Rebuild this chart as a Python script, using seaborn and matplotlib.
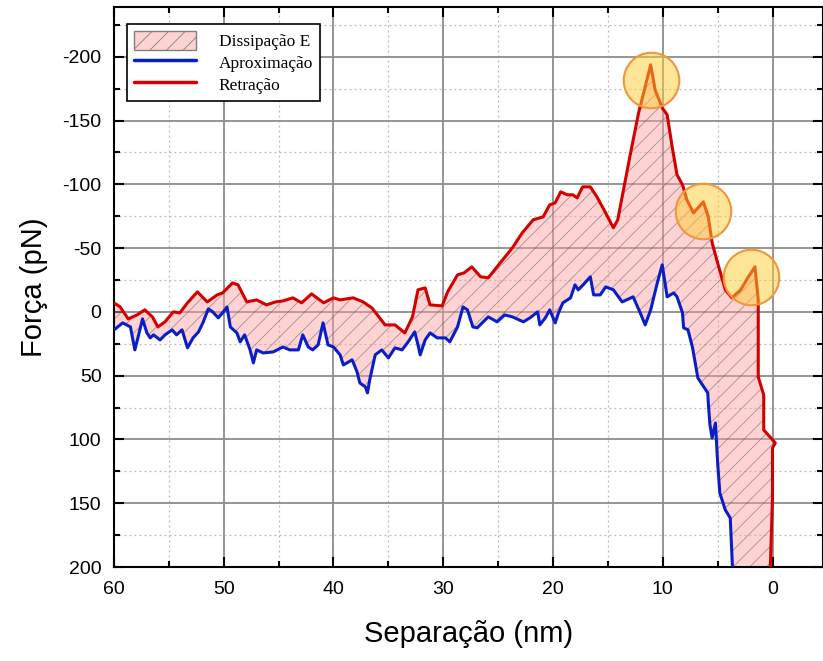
import matplotlib
matplotlib.use("Agg")
import matplotlib.pyplot as plt
import numpy as np
import pandas as pd
import seaborn as sns
from matplotlib.lines import Line2D
from matplotlib.patches import Patch
from matplotlib.ticker import MultipleLocator

# Retração (red curve): separation (nm) vs force (pN)
ret_sep = [60.0, 59.45, 58.7, 57.9, 57.2, 56.5, 56.0, 55.35, 54.6, 54.0, 53.3, 52.4,
           51.5, 50.6, 50.1, 49.2, 48.7, 47.9, 47.0, 46.1, 45.3, 44.6, 43.7, 42.9,
           42.0, 40.9, 40.0, 39.4, 38.2, 37.3, 36.5, 35.3, 34.4, 33.5, 32.8, 32.3,
           31.65, 31.2, 30.1, 29.6, 28.7, 28.1, 27.4, 26.6, 25.9, 25.1, 23.7, 22.8,
           21.8, 20.9, 20.3, 19.8, 19.3, 18.7, 18.2, 17.8, 17.3, 16.6, 16.0, 15.2,
           14.5, 14.1, 13.7, 13.0, 12.2, 11.6, 11.1, 10.7, 10.05, 9.6, 9.1, 8.7,
           8.2, 7.8, 7.2, 6.3, 5.85, 5.5, 4.9, 4.3, 3.7, 2.9, 2.2, 1.6,
           1.3, 1.3, 0.8, 0.8, -0.25, 0.0, 0.0, 0.2, 0.2]
ret_force = [-7, -4, 5.5, 2.4, -1.6, 3.9, 11.8, 7.8, 0, 0.8, -7.1, -15.7,
             -7.8, -13.3, -14.9, -22.7, -21.2, -7.8, -9.4, -5.5, -7.8, -8.6, -11.0, -7.1,
             -14.1, -7.1, -11.0, -9.4, -11.0, -7.8, -3.1, 10.2, 10.2, 16.5, 3.9, -17.3,
             -18.8, -5.5, -4.7, -15.7, -29.0, -30.6, -35.3, -27.5, -26.7, -35.3, -50.2, -62.0,
             -72.2, -74.5, -83.9, -85.5, -94.1, -91.8, -91.8, -89.4, -98.0, -98.0, -90.2, -77.6,
             -65.9, -72.2, -90.2, -121.6, -156.1, -176.5, -193.7, -174.1, -160.0, -154.5, -127.1, -107.5,
             -99.6, -87.8, -77.6, -86.3, -74.5, -54.1, -35.3, -17.3, -11.0, -17.3, -27.5, -35.3,
             -9.4, 51.0, 65.1, 92.5, 102.7, 106.7, 145.1, 200, 226]

# Aproximação (blue curve)
apr_sep = [60.0, 59.2, 58.5, 58.1, 57.8, 57.4, 57.0, 56.7, 56.4, 55.8, 55.35, 54.7,
           54.3, 53.8, 53.3, 52.8, 52.3, 51.9, 51.4, 51.0, 50.5, 50.1, 49.7, 49.4,
           48.8, 48.5, 48.1, 47.6, 47.3, 47.0, 46.4, 45.5, 44.6, 44.0, 43.2, 42.8,
           42.3, 41.9, 41.4, 40.95, 40.5, 40.0, 39.4, 39.1, 38.3, 37.85, 37.6, 37.1,
           36.9, 36.7, 36.2, 35.6, 35.0, 34.4, 33.75, 33.2, 32.6, 32.3, 32.1, 31.65,
           31.2, 30.55, 29.8, 29.4, 28.7, 28.2, 27.8, 27.3, 26.9, 25.9, 25.1, 24.4,
           23.7, 22.7, 22.1, 21.4, 21.2, 20.7, 20.3, 19.8, 19.5, 19.1, 18.4, 18.0,
           17.7, 17.25, 16.6, 16.3, 15.7, 15.2, 14.5, 13.7, 12.7, 12.05, 11.6, 11.1,
           10.5, 10.05, 9.6, 9.0, 8.7, 8.2, 8.1, 7.7, 7.3, 6.8, 5.9, 5.85,
           5.7, 5.5, 5.2, 5.0, 4.8, 4.3, 3.85, 3.65, 3.65]
apr_force = [14.1, 8.6, 11.8, 29.8, 19.6, 5.5, 16.5, 20.4, 18.0, 22.0, 18.0, 14.1,
             18.0, 14.1, 28.2, 20.4, 15.7, 8.6, -2.4, 0, 4.7, 0.8, -3.9, 11.8,
             16.5, 23.5, 18.0, 29.8, 40.0, 29.8, 32.2, 31.4, 27.5, 29.8, 29.8, 18.0,
             27.5, 29.8, 25.9, 8.6, 25.9, 27.5, 33.7, 41.6, 37.6, 47.1, 55.7, 58.8,
             63.5, 53.3, 33.7, 29.8, 36.1, 28.2, 29.8, 23.5, 15.7, 25.9, 33.7, 22.0,
             16.5, 20.4, 20.4, 23.5, 11.8, -3.9, -1.6, 11.8, 12.5, 3.9, 7.8, 2.4,
             3.9, 7.8, 4.7, 0, 10.2, 4.7, -1.6, 8.6, 0.8, -7.1, -11.0, -21.2,
             -17.3, -21.2, -27.5, -13.3, -13.3, -19.6, -17.3, -7.8, -11.8, 0.8, 10.2, -1.6,
             -22.7, -36.9, -11.8, -14.9, -11.8, 0.8, 12.5, 14.1, 27.5, 51.8, 63.5, 71.4,
             88.6, 98.8, 87.1, 118.4, 142.0, 155.3, 161.6, 200, 226]

# highlighted rupture events
peak_sep = [11.1, 6.3, 2.0]
peak_force = [-182, -79, -27]

RED = "#d40000"
BLUE = "#0a1ec8"

sns.set_style("ticks")
plt.rcParams["font.family"] = ["Liberation Sans", "DejaVu Sans"]
plt.rcParams["axes.unicode_minus"] = False
plt.rcParams["hatch.linewidth"] = 0.6

fig = plt.figure(figsize=(8.23, 6.61), dpi=100)
ax = fig.add_axes([0.1385, 0.1422, 0.8615, 0.8472])
ax.set_axisbelow(True)

ret = pd.DataFrame({"sep": ret_sep, "force": ret_force})
apr = pd.DataFrame({"sep": apr_sep, "force": apr_force})

# dissipated energy: region enclosed by the two curves
ax.fill(
    np.concatenate([ret["sep"], apr["sep"][::-1]]),
    np.concatenate([ret["force"], apr["force"][::-1]]),
    facecolor=(1.0, 0.62, 0.62, 0.45),
    edgecolor=(0.35, 0.35, 0.35, 0.55),
    hatch="//",
    linewidth=0,
    zorder=1,
)

sns.lineplot(data=apr, x="sep", y="force", sort=False, estimator=None,
             color=BLUE, linewidth=2.2, ax=ax, zorder=3)
sns.lineplot(data=ret, x="sep", y="force", sort=False, estimator=None,
             color=RED, linewidth=2.2, ax=ax, zorder=3)

ax.scatter(peak_sep, peak_force, s=1600, facecolor=(1.0, 0.8, 0.2, 0.5),
           edgecolor="#f0963c", linewidth=1.5, zorder=4)

ax.set_xlim(60, -4.6)
ax.set_ylim(200, -239)
ax.xaxis.set_major_locator(MultipleLocator(10))
ax.xaxis.set_minor_locator(MultipleLocator(5))
ax.yaxis.set_major_locator(MultipleLocator(50))
ax.yaxis.set_minor_locator(MultipleLocator(25))

ax.grid(which="major", color="#8c8c8c", linewidth=1.3, linestyle="-")
ax.grid(which="minor", color="#b8b8b8", linewidth=0.9, linestyle=(0, (1.5, 2.5)))

ax.tick_params(which="both", direction="in", top=True, right=True, width=1.5,
               labelsize=14, colors="black", labelcolor="black")
ax.tick_params(axis="x", pad=10)
ax.tick_params(axis="y", pad=9)
ax.tick_params(which="major", length=7)
ax.tick_params(which="minor", length=4)
for side in ax.spines.values():
    side.set_linewidth(1.5)
    side.set_color("black")

ax.set_xlabel("Separação (nm)", fontsize=21, labelpad=16, color="black")
ax.set_ylabel("Força (pN)", fontsize=21, labelpad=10, color="black")

handles = [
    Patch(facecolor="#ffd2d2", edgecolor="#808080", hatch="//", label="Dissipação E"),
    Line2D([], [], color=BLUE, linewidth=2.5, label="Aproximação"),
    Line2D([], [], color=RED, linewidth=2.5, label="Retração"),
]
leg = ax.legend(handles=handles, loc="upper left", bbox_to_anchor=(0.018, 0.97),
                prop={"family": "Liberation Serif", "size": 12.5},
                frameon=True, fancybox=False, edgecolor="black", framealpha=1,
                borderaxespad=0, handlelength=3.6, handleheight=1.3,
                handletextpad=1.3, labelspacing=0.15, borderpad=0.4)
leg.get_frame().set_linewidth(1.2)
for txt in leg.get_texts():
    txt.set_color("black")

fig.savefig("out.png", dpi=100)
